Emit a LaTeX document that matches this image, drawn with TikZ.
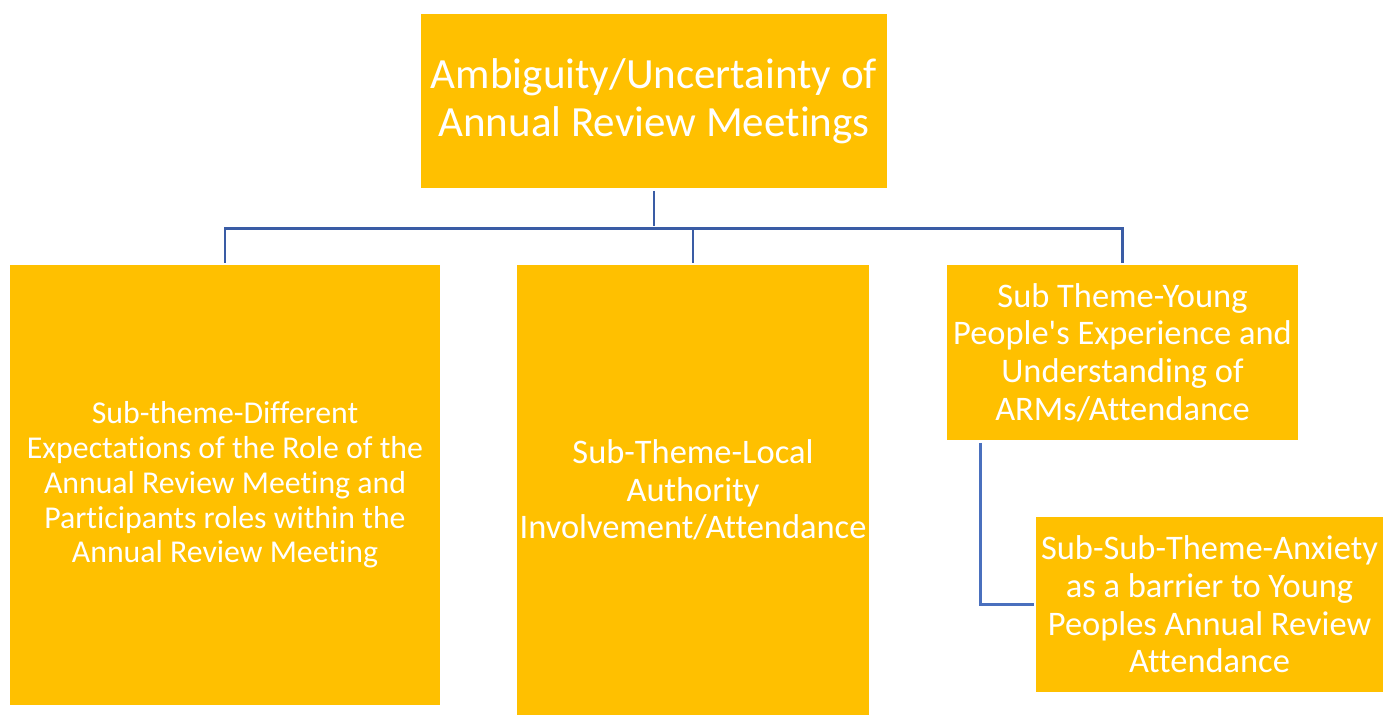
\documentclass[tikz,border=0pt]{standalone}
\usepackage{fontspec}
\setmainfont{Carlito}[Ligatures={NoCommon,TeXOff}]
\usetikzlibrary{positioning}
\definecolor{themegold}{HTML}{FFC000}
\definecolor{linkblue}{HTML}{3A5CA5}
\definecolor{sidelink}{HTML}{4A70BE}

\begin{document}
\begin{tikzpicture}[x=0.02cm,y=-0.02cm,
    theme/.style = {
      fill = themegold,
      text = white,
      align = center,
      inner sep = 0pt
    },
    link/.style = {
      draw = linkblue,
      line width = 1.7pt,
      shorten < = 1.5pt,
      shorten > = 1.2pt
    }
  ]
  \useasboundingbox (0,0) rectangle (1384,716);

  % main theme and the sub-themes below it
  \node[theme, minimum width=9.32cm, minimum height=3.48cm,
        font=\fontsize{24.5}{27.2}\selectfont] (top) at (654,101)
    {Ambiguity/Uncertainty of\\Annual Review Meetings};

  \node[theme, minimum width=8.6cm, minimum height=8.8cm,
        font=\fontsize{18.1}{19.8}\selectfont] (left) at (225,485)
    {Sub-theme-Different\\Expectations of the Role of the\\Annual Review Meeting and\\Participants roles within the\\Annual Review Meeting};

  \node[theme, minimum width=7.04cm, minimum height=9.0cm,
        font=\fontsize{19.6}{21.5}\selectfont] (mid) at (693,490)
    {Sub-Theme-Local\\Authority\\Involvement/Attendance};

  \node[theme, minimum width=7.02cm, minimum height=3.5cm,
        font=\fontsize{19.6}{21.5}\selectfont] (rtop) at (1122.5,352.5)
    {Sub Theme-Young\\People's Experience and\\Understanding of\\ARMs/Attendance};

  \node[theme, minimum width=6.94cm, minimum height=3.5cm,
        font=\fontsize{19.6}{21.5}\selectfont] (rbot) at (1209.5,604.5)
    {Sub-Sub-Theme-Anxiety\\as a barrier to Young\\Peoples Annual Review\\Attendance};

  % connectors
  \draw[link] (top.south) -- ++(0,40) coordinate (hub);
  \draw[link, shorten <=0pt] (hub) -| (left.north);
  \draw[link, shorten <=0pt] (hub) -| (mid.north);
  \draw[link, shorten <=0pt] (hub) -| (rtop.north);
  \draw[link, draw=sidelink] ([xshift=0.68cm]rtop.south west) |- (rbot.west);

\end{tikzpicture}
\end{document}
